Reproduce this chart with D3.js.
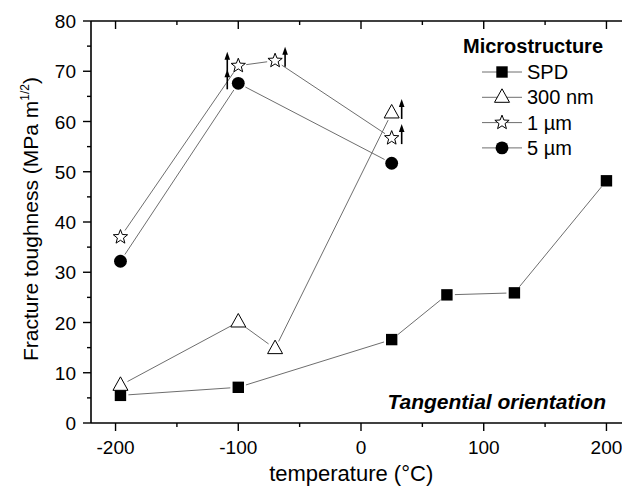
<!DOCTYPE html>
<html>
<head>
<meta charset="utf-8">
<script src="https://cdn.jsdelivr.net/npm/d3@7"></script>
<style>
  body { margin: 0; background: #fff; }
  svg { font-family: "Liberation Sans", Arial, sans-serif; }
</style>
</head>
<body>
<svg id="chart" width="622" height="488"></svg>
<script>
// series values
const spdTemp = [-196, -100, 25, 70, 125, 200];
const spdK = [5.5, 7.1, 16.6, 25.5, 25.9, 48.2];

const nm300Temp = [-196, -100, -70, 25];
const nm300K = [7.5, 20.1, 14.8, 61.7];

const um1Temp = [-196, -100, -70, 25];
const um1K = [37.0, 71.1, 72.1, 56.7];

const um5Temp = [-196, -100, 25];
const um5K = [32.2, 67.6, 51.7];

// points that carry a "lower bound" arrow: [series, index, side]
const arrows = [
  ['1um', 1, -1], ['5um', 1, -1], ['1um', 2, 1],
  ['300nm', 3, 1], ['1um', 3, 1], ['5um', 3, 1]
];

const legendLabels = ['SPD', '300 nm', '1 µm', '5 µm'];
const xTicks = [-200, -100, 0, 100, 200];
const yTicks = [0, 10, 20, 30, 40, 50, 60, 70, 80];

const margin = {top: 21, left: 91};
const width = 540;   // right side runs past the picture edge
const height = 402;

const svg = d3.select('#chart');
const chart = svg.append('g')
  .attr('transform', `translate(${margin.left}, ${margin.top})`);

const x = d3.scaleLinear().domain([-220, 220]).range([0, width]);
const y = d3.scaleLinear().domain([0, 80]).range([height, 0]);

const series = [
  {key: 'SPD', t: spdTemp, k: spdK, shape: 'square'},
  {key: '300nm', t: nm300Temp, k: nm300K, shape: 'triangle'},
  {key: '1um', t: um1Temp, k: um1K, shape: 'star'},
  {key: '5um', t: um5Temp, k: um5K, shape: 'circle'}
];

function markerPath(shape) {
  if (shape === 'square') return d3.symbol(d3.symbolSquare, 130)();
  if (shape === 'triangle') return 'M0,-8.5L7.5,5L-7.5,5Z';
  if (shape === 'circle') return d3.symbol(d3.symbolCircle, 130)();
  // five point star
  const pts = [];
  for (let i = 0; i < 10; i++) {
    const r = i % 2 === 0 ? 7.5 : 3.2;
    const a = -Math.PI / 2 + i * Math.PI / 5;
    pts.push([r * Math.cos(a), r * Math.sin(a)]);
  }
  return 'M' + pts.map(p => p.join(',')).join('L') + 'Z';
}

function styleMarker(sel, shape) {
  const filled = shape === 'square' || shape === 'circle';
  sel.attr('fill', filled ? '#000' : '#fff')
    .attr('stroke', '#000')
    .attr('stroke-width', filled ? 0 : 1);
}

// axes
const axisColor = '#000';
chart.append('line').attr('x1', 0).attr('x2', width).attr('y1', height).attr('y2', height)
  .attr('stroke', axisColor).attr('stroke-width', 1.6);
chart.append('line').attr('x1', 0).attr('x2', width).attr('y1', 0).attr('y2', 0)
  .attr('stroke', axisColor).attr('stroke-width', 1.6);
chart.append('line').attr('x1', 0).attr('x2', 0).attr('y1', 0).attr('y2', height)
  .attr('stroke', axisColor).attr('stroke-width', 1.6);

const xMinor = d3.range(-200, 221, 50);
const yMinor = d3.range(0, 81, 5);

// bottom ticks (outward), top ticks (pointing down)
xMinor.forEach(v => {
  const len = v % 100 === 0 ? 8 : 4;
  chart.append('line').attr('x1', x(v)).attr('x2', x(v))
    .attr('y1', height).attr('y2', height + len)
    .attr('stroke', axisColor).attr('stroke-width', 1.4);
  chart.append('line').attr('x1', x(v)).attr('x2', x(v))
    .attr('y1', 0).attr('y2', len)
    .attr('stroke', axisColor).attr('stroke-width', 1.4);
});
yMinor.forEach(v => {
  const len = v % 10 === 0 ? 8 : 4;
  chart.append('line').attr('x1', -len).attr('x2', 0)
    .attr('y1', y(v)).attr('y2', y(v))
    .attr('stroke', axisColor).attr('stroke-width', 1.4);
});

chart.selectAll('.xlab').data(xTicks).enter().append('text')
  .attr('x', d => x(d)).attr('y', height + 31)
  .attr('text-anchor', 'middle').attr('font-size', 19)
  .text(d => d);

chart.selectAll('.ylab').data(yTicks).enter().append('text')
  .attr('x', -15).attr('y', d => y(d) + 7)
  .attr('text-anchor', 'end').attr('font-size', 19)
  .text(d => d);

chart.append('text')
  .attr('x', x(-8)).attr('y', height + 58)
  .attr('text-anchor', 'middle').attr('font-size', 22)
  .text('temperature (°C)');

const yTitle = chart.append('text')
  .attr('transform', `translate(-53, ${height / 2 - 3}) rotate(-90)`)
  .attr('text-anchor', 'middle').attr('font-size', 21);
yTitle.append('tspan').text('Fracture toughness (MPa m');
yTitle.append('tspan').attr('font-size', 12).attr('dy', -9).text('1/2');
yTitle.append('tspan').attr('dy', 9).text(')');

// connecting lines, stopped short of the markers
const gap = 8;
series.forEach(s => {
  const pts = s.t.map((t, i) => [x(t), y(s.k[i])]);
  const segs = d3.pairs(pts);
  chart.selectAll(null).data(segs).enter().append('line')
    .each(function(d) {
      const [a, b] = d;
      const dx = b[0] - a[0], dy = b[1] - a[1];
      const len = Math.hypot(dx, dy);
      const ux = dx / len, uy = dy / len;
      d3.select(this)
        .attr('x1', a[0] + ux * gap).attr('y1', a[1] + uy * gap)
        .attr('x2', b[0] - ux * gap).attr('y2', b[1] - uy * gap);
    })
    .attr('stroke', '#6e6e6e').attr('stroke-width', 1);
});

// markers
series.forEach(s => {
  chart.selectAll(null).data(s.t.map((t, i) => [t, s.k[i]])).enter()
    .append('path')
    .attr('d', markerPath(s.shape))
    .attr('transform', d => `translate(${x(d[0])}, ${y(d[1])})`)
    .call(styleMarker, s.shape);
});

// arrows marking lower bounds
const byKey = {};
series.forEach(s => { byKey[s.key] = s; });
arrows.forEach(([key, i, side]) => {
  const s = byKey[key];
  const ax = x(s.t[i]) + (side < 0 ? -11 : 10);
  const ay = y(s.k[i]);
  chart.append('line').attr('x1', ax).attr('x2', ax)
    .attr('y1', ay + 6).attr('y2', ay - 8)
    .attr('stroke', '#000').attr('stroke-width', 1.6);
  chart.append('path')
    .attr('d', `M${ax},${ay - 14}L${ax + 2.8},${ay - 6}L${ax - 2.8},${ay - 6}Z`)
    .attr('fill', '#000');
});

// legend
const legend = svg.append('g');
legend.append('text')
  .attr('x', 533).attr('y', 53)
  .attr('text-anchor', 'middle').attr('font-size', 20).attr('font-weight', 'bold')
  .text('Microstructure');
series.forEach((s, i) => {
  const ly = 72 + i * 25.3;
  legend.append('line').attr('x1', 482).attr('x2', 522)
    .attr('y1', ly).attr('y2', ly)
    .attr('stroke', '#6e6e6e').attr('stroke-width', 1);
  legend.append('path')
    .attr('d', markerPath(s.shape))
    .attr('transform', `translate(502, ${ly})`)
    .call(styleMarker, s.shape);
  legend.append('text')
    .attr('x', 527).attr('y', ly + 7)
    .attr('font-size', 20)
    .text(legendLabels[i]);
});

chart.append('text')
  .attr('x', 515).attr('y', height - 14)
  .attr('text-anchor', 'end')
  .attr('font-size', 21).attr('font-weight', 'bold').attr('font-style', 'italic')
  .text('Tangential orientation');
</script>
</body>
</html>
